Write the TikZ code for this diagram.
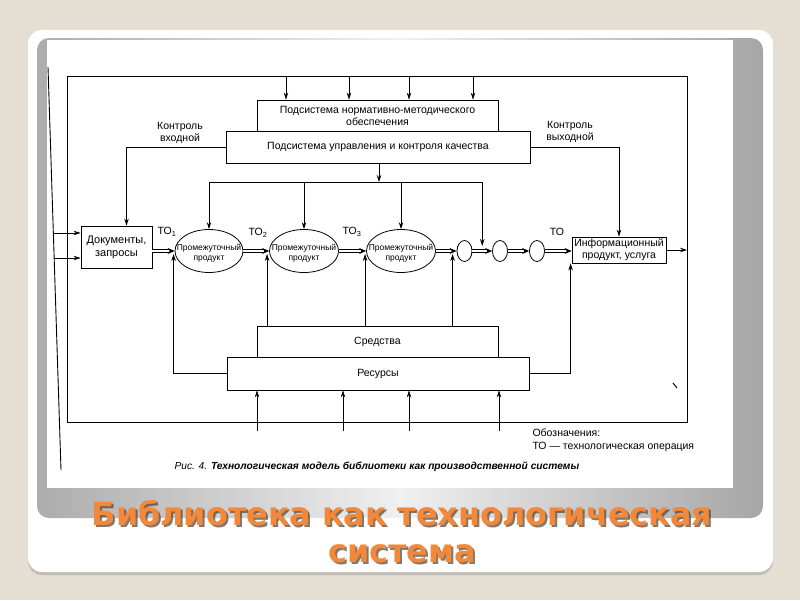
\documentclass[tikz,border=0pt]{standalone}
\usepackage{fontspec}
\usepackage{graphicx}
\setmainfont{Liberation Sans}
\newfontfamily\titlefont{DejaVu Sans Condensed}
\usetikzlibrary{arrows.meta,shadows,calc,shapes.geometric}
\definecolor{pagebg}{RGB}{228,222,211}
\definecolor{titleor}{RGB}{242,136,58}
\definecolor{titlesh}{RGB}{80,62,45}
\newcommand{\slidetitle}{\resizebox{620pt}{\height}{\titlefont\bfseries\fontsize{32}{37}\selectfont\begin{tabular}[t]{@{}c@{}}Библиотека как технологическая\\система\end{tabular}}}
\begin{document}
\begin{tikzpicture}[x=1pt,y=-1pt,
  every node/.style={font=\fontsize{10.5}{12}\selectfont, align=center},
  box/.style={draw, line width=0.8pt, inner sep=1pt},
  oval/.style={draw, ellipse, line width=0.8pt, inner sep=0pt},
  etext/.style={font=\fontsize{8.5}{10.5}\selectfont, inner sep=0pt},
  arr/.style={line width=0.7pt, -{Stealth[length=7pt,width=4.5pt]}},
  flow/.style={double, double distance=1.5pt, line width=0.8pt, -{Stealth[length=7pt,width=6pt]}},
  ln/.style={line width=0.7pt}
]
\useasboundingbox (0,0) rectangle (800,600);
% slide
\fill[pagebg] (0,0) rectangle (800,600);
\fill[white, rounded corners=14pt, drop shadow={shadow xshift=0pt,shadow yshift=-3pt,opacity=0.35}] (28,30) rectangle (773,572);
\shade[rounded corners=12pt, left color=gray!65, right color=gray!70, middle color=gray!12] (37,38) rectangle (763,518);
\fill[white] (47,40) rectangle (733,488);

% frame
\coordinate (TL) at (67,76);
\coordinate (BR) at (687,422);
\draw[ln] (TL) rectangle (BR);
\coordinate (scanA) at (48,67);
\coordinate (scanB) at (61,470);
\draw[line width=0.9pt] (scanA) -- (scanB);
\coordinate (dotA) at (673,383);
\coordinate (dotB) at (677,388);
\draw[line width=1pt] (dotA) -- (dotB);

% boxes
\node[box, minimum width=241pt, minimum height=31pt] (nm) at (377.5,115.5) {Подсистема нормативно-методического\\обеспечения};
\node[box, minimum width=304pt, minimum height=32pt] (uk) at (378,147) {Подсистема управления и контроля качества};
\node[box, minimum width=71pt, minimum height=42pt, font=\fontsize{11}{13}\selectfont] (doc) at (116.5,247) {Документы,\\запросы};
\node[box, minimum width=94pt, minimum height=26pt, inner sep=0pt, font=\fontsize{10.5}{12}\selectfont] (info) at (619,250) {Информационный\\продукт, услуга};
\node[box, minimum width=241pt, minimum height=31pt] (sr) at (377.5,341.5) {Средства};
\node[box, minimum width=302pt, minimum height=33pt] (res) at (378,373.5) {Ресурсы};

% ellipses
\node[oval, minimum width=68pt, minimum height=43pt] (e1) at (209,251) {};
\node[oval, minimum width=69pt, minimum height=43pt] (e2) at (304,251) {};
\node[oval, minimum width=69pt, minimum height=43pt] (e3) at (401,251) {};
\node[etext] (e1t) at ($(e1)+(0,2)$) {Промежуточный\\продукт};
\node[etext] (e2t) at ($(e2)+(0,2)$) {Промежуточный\\продукт};
\node[etext] (e3t) at ($(e3)+(0,2)$) {Промежуточный\\продукт};
\node[oval, minimum width=15pt, minimum height=21pt] (c1) at (464.5,251) {};
\node[oval, minimum width=15pt, minimum height=21pt] (c2) at (500,251) {};
\node[oval, minimum width=15pt, minimum height=21pt] (c3) at (537,251) {};

% labels
\node (to1) at (167,232) {ТО\textsubscript{1}};
\node (to2) at (258,233) {ТО\textsubscript{2}};
\node (to3) at (352,232) {ТО\textsubscript{3}};
\node (to4) at (557,232) {ТО};
\node (kin) at (180,133) {Контроль\\входной};
\node (kout) at (570,132) {Контроль\\выходной};
\node[anchor=north west, align=left, font=\fontsize{10.5}{13}\selectfont] (leg) at (529,425) {Обозначения:\\ТО — технологическая операция};
\node[anchor=west, font=\fontsize{10.2}{12}\selectfont] (cap) at (171,467) {\itshape Рис. 4. \bfseries Технологическая модель библиотеки как производственной системы};

% top arrows
\foreach \xx in {286,349,409,473} \draw[arr] (\xx,0 |- TL) -- (\xx,0 |- nm.north);

% distribution
\coordinate (dist) at (379,182);
\coordinate (j) at ($(c1.east)!0.5!(c2.west)$);
\draw[arr] (uk.south -| dist) -- (dist);
\draw[ln] (dist -| e1.north) -- (dist -| j);
\draw[arr] (dist -| e1.north) -- (e1.north);
\draw[arr] (dist -| e2.north) -- (e2.north);
\draw[arr] (dist -| e3.north) -- (e3.north);
\draw[arr] (dist -| j) -- ($(j)+(0,-5)$);

% control lines
\draw[arr] (uk.west) -| ($(doc.north)+(10,0)$);
\draw[arr] (uk.east) -| (info.north);
\draw[arr] (info.east) -- (info.east -| BR);

% inputs
\coordinate (in1) at (53,233);
\coordinate (in2) at (54,258);
\draw[arr] (in1) -- (in1 -| doc.west);
\draw[arr] (in2) -- (in2 -| doc.west);

% flow
\draw[flow] (doc.east |- e1.west) -- (e1.west);
\draw[flow] (e1.east) -- (e2.west);
\draw[flow] (e2.east) -- (e3.west);
\draw[flow] (e3.east) -- (c1.west);
\draw[flow] (c1.east) -- (c2.west);
\draw[flow] (c2.east) -- (c3.west);
\draw[flow] (c3.east) -- (c3.east -| info.west);

% resources
\draw[arr] ($(sr.north -| e2.west)+(-2,0)$) -- ($(e2.west)+(-2,3)$);
\draw[arr] ($(sr.north -| e3.west)+(-1,0)$) -- ($(e3.west)+(-1,3)$);
\draw[arr] ($(sr.north -| c1.west)+(-4,0)$) -- ($(c1.west)+(-4,3)$);
\draw[arr] (res.west) -| ($(e1.west)+(-1,3)$);
\draw[arr] (res.east) -| ($(info.south west)+(-1,0)$);
\coordinate (bot) at (0,431);
\foreach \xx in {257,343,409,499} \draw[arr] (\xx,0 |- bot) -- (\xx,0 |- res.south);

% title
\node[text=titlesh, opacity=0.7, anchor=base, inner sep=0pt] (tsh) at (404,527) {\slidetitle};
\node[text=titleor, anchor=base, inner sep=0pt] (title) at (402,525) {\slidetitle};
\end{tikzpicture}
\end{document}
